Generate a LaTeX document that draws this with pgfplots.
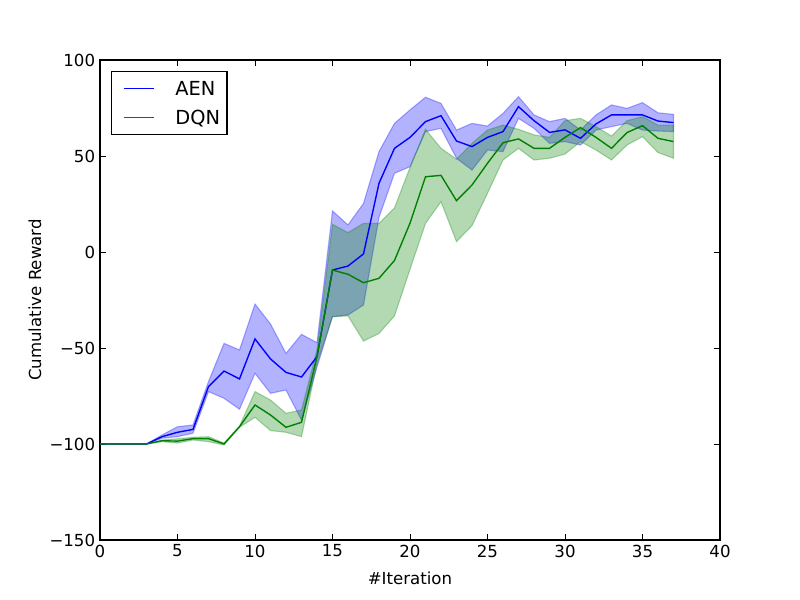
\documentclass[border=0pt]{standalone}
\usepackage{pgfplots}
\pgfplotsset{compat=1.18}
\usepackage{pgfplotstable}
\usepgfplotslibrary{fillbetween}
\usepackage{fontspec}
\setmainfont{DejaVu Sans}
\definecolor{mplgreen}{rgb}{0,0.5,0}
\definecolor{mplblue}{rgb}{0,0,1}

\pgfplotstableread{
x  am    alo    ahi    dm     dlo    dhi
0  -100  -100   -100   -100   -100   -100
1  -100  -100   -100   -100   -100   -100
2  -100  -100   -100   -100   -100   -100
3  -100  -100   -100   -100   -100   -100
4  -96.2 -97.0  -95.3  -98.3  -98.8  -97.9
5  -93.9 -96.2  -91.0  -98.5  -99.5  -97.3
6  -92.4 -94.4  -90.1  -97.2  -97.9  -96.5
7  -70.1 -72.7  -67.5  -97.2  -98.8  -96.2
8  -62.0 -76.2  -47.6  -100   -100.5 -99.5
9  -66.1 -81.9  -51.0  -91.0  -91.3  -90.7
10 -45.3 -63.2  -27.1  -79.7  -86.1  -72.7
11 -55.7 -73.6  -37.5  -84.9  -93.0  -77.1
12 -62.7 -71.9  -52.8  -91.3  -93.9  -84.0
13 -65.1 -87.5  -42.9  -88.7  -96.2  -82.3
14 -54.5 -60.0  -47.2  -54.5  -58.0  -51.0
15 -9.4  -33.7  21.4   -9.4   -33.7  14.4
16 -7.3  -32.8  14.1   -11.6  -33.3  10.1
17 -1.0  -27.6  25.3   -16.0  -46.4  14.9
18 35.8  18.0   52.3   -13.7  -42.4  14.9
19 54.0  41.0   67.0   -4.4   -33.3  23.0
20 59.7  44.4   74.0   15.0   -9.0   44.0
21 67.9  62.7   80.6   39.2   14.9   63.9
22 71.0  64.4   77.4   39.9   26.2   54.0
23 57.8  48.8   63.5   26.7   5.4    48.3
24 54.9  42.7   67.0   34.9   13.7   56.6
25 59.7  53.1   65.6   46.2   30.6   63.5
26 62.7  52.3   72.2   56.9   47.9   66.1
27 75.7  69.6   80.9   58.9   54.0   63.9
28 68.4  64.4   71.4   54.0   47.9   61.0
29 62.3  56.6   67.9   54.0   48.8   59.7
30 63.6  57.5   69.6   59.7   51.0   68.4
31 59.2  55.7   63.5   64.8   57.5   69.6
32 66.7  63.5   71.4   59.7   53.1   65.3
33 71.4  65.3   76.6   54.0   47.9   60.4
34 71.4  67.0   74.8   62.2   55.7   68.4
35 71.4  63.5   77.8   65.8   60.1   70.5
36 68.2  63.0   72.5   59.2   51.8   66.1
37 67.4  62.7   71.7   57.5   48.8   66.1
}\datatable

\begin{document}
\begin{tikzpicture}
\begin{axis}[
  at={(1in,0.6in)}, anchor=south west,
  scale only axis, width=6.2in, height=4.8in,
  xmin=0, xmax=40, ymin=-150, ymax=100,
  xtick={0,5,...,40},
  ytick={-150,-100,-50,0,50,100},
  yticklabels={−150,−100,−50,0,50,100},
  /pgf/number format/assume math mode=true,
  tick align=inside,
  major tick length=4pt,
  tick style={black, line width=0.5pt},
  axis line style={line width=1pt},
  ticklabel style={font=\fontsize{12}{14}\selectfont},
  xlabel={\#Iteration},
  ylabel={Cumulative Reward},
  label style={font=\fontsize{12}{14}\selectfont},
  xlabel style={at={(axis description cs:0.5,-0.079)}, anchor=center},
  ylabel style={at={(axis description cs:-0.105,0.5)}, anchor=center},
  legend cell align=left,
  legend style={at={(0.0173,0.9777)}, anchor=north west,
    draw=black, line width=1pt, fill=white,
    font=\fontsize{14}{16}\selectfont,
    inner xsep=5pt, inner ysep=7.3pt,
    nodes={inner sep=0pt, text height=10.2pt, text depth=0pt},
    row sep=10.8pt,
    /tikz/every odd column/.append style={column sep=15pt}},
  legend image code/.code={\draw[opacity=0, line width=0.1pt] (0pt,0pt) -- (4pt,0pt); \draw[#1, line width=1pt] (4pt,0pt) -- (25.7pt,0pt);},
]
\addplot[draw=none, name path=ahi, forget plot] table[x=x, y=ahi] {\datatable};
\addplot[draw=none, name path=alo, forget plot] table[x=x, y=alo] {\datatable};
\addplot[draw=none, name path=dhi, forget plot] table[x=x, y=dhi] {\datatable};
\addplot[draw=none, name path=dlo, forget plot] table[x=x, y=dlo] {\datatable};
\addplot[fill=mplblue, fill opacity=0.3, draw=mplblue, draw opacity=0.3, line width=0.8pt, forget plot] fill between[of=ahi and alo];
\addplot[fill=mplgreen, fill opacity=0.3, draw=mplgreen, draw opacity=0.3, line width=0.8pt, forget plot] fill between[of=dhi and dlo];
\addplot[mplblue, line width=1pt] table[x=x, y=am] {\datatable};
\addlegendentry{AEN}
\addplot[mplgreen, line width=1pt] table[x=x, y=dm] {\datatable};
\addlegendentry{DQN}
\end{axis}
\path (0,0) rectangle (8in,6in);
\end{tikzpicture}
\end{document}
